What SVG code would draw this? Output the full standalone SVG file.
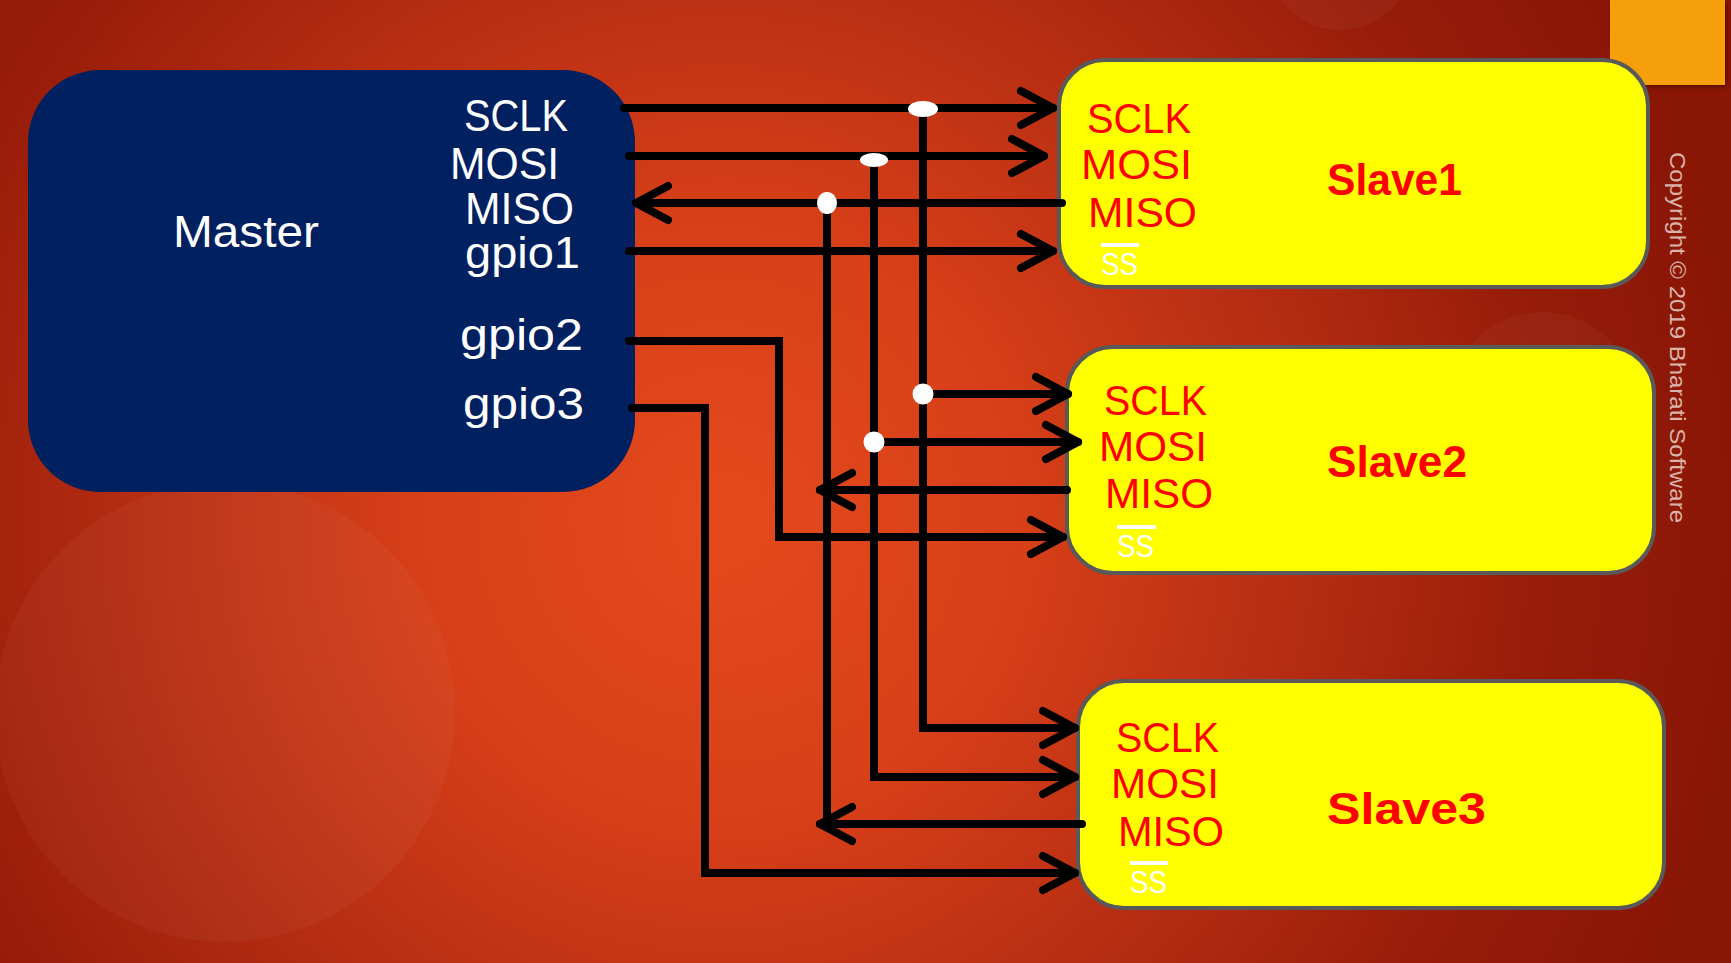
<svg xmlns="http://www.w3.org/2000/svg" width="1731" height="963" viewBox="0 0 1731 963">
<defs>
<radialGradient id="bg" gradientUnits="userSpaceOnUse" cx="720" cy="520" r="1020">
<stop offset="0" stop-color="#E54A1D"/>
<stop offset="0.3" stop-color="#D63F18"/>
<stop offset="0.58" stop-color="#B42C12"/>
<stop offset="0.8" stop-color="#981D0A"/>
<stop offset="1" stop-color="#8A1606"/>
</radialGradient>
<marker id="arr" viewBox="-40 -25 50 50" markerWidth="50" markerHeight="50" markerUnits="userSpaceOnUse" refX="0" refY="0" orient="auto" overflow="visible">
<path d="M -32 -17 L 0 0 L -32 17" fill="none" stroke="#000" stroke-width="8" stroke-linecap="round" stroke-linejoin="round"/>
</marker>
<filter id="sh" x="-20%" y="-20%" width="140%" height="140%">
<feGaussianBlur stdDeviation="2"/>
</filter>
</defs>
<style>
.w{font-family:"Liberation Sans",Arial,sans-serif;font-size:44px;fill:#FFFFFF}
.r{font-family:"Liberation Sans",Arial,sans-serif;font-size:42px;fill:#FF0000}
.ss{font-family:"Liberation Sans",Arial,sans-serif;font-size:31px;fill:#FFFFFF}
.nm{font-family:"Liberation Sans",Arial,sans-serif;font-size:45px;font-weight:bold;fill:#FF0000}
.box{fill:#FFFF00;stroke:#595959;stroke-width:4}
.ol{stroke:#FFFFFF;stroke-width:4}
.c{fill:none;stroke:#000;stroke-width:8;stroke-linecap:round;stroke-linejoin:miter}
.dot{fill:#FFFFFF}
</style>
<g id="background">
<rect x="0" y="0" width="1731" height="963" fill="url(#bg)"/>
<circle cx="225" cy="712" r="230" fill="#FFFFFF" opacity="0.035"/>
<circle cx="1340" cy="-45" r="75" fill="#FFFFFF" opacity="0.035"/>
<circle cx="1543" cy="406" r="94" fill="#FFFFFF" opacity="0.035"/>
<rect x="1612" y="2" width="115" height="85" fill="#000" opacity="0.35" filter="url(#sh)"/>
<rect x="1610" y="0" width="115" height="85" fill="#F5A00A"/>
<text transform="translate(1670,152) rotate(90)" font-family="'Liberation Sans',Arial,sans-serif" font-size="22" fill="#D9B3A8" textLength="371" lengthAdjust="spacingAndGlyphs">Copyright © 2019 Bharati Software</text>
</g>
<g id="master">
<rect x="28" y="70" width="607" height="422" rx="72" ry="72" fill="#002060"/>
<text class="w" x="173" y="247" font-size="45" textLength="146" lengthAdjust="spacingAndGlyphs">Master</text>
<text class="w" x="464" y="131" textLength="104" lengthAdjust="spacingAndGlyphs">SCLK</text>
<text class="w" x="450" y="179" textLength="109" lengthAdjust="spacingAndGlyphs">MOSI</text>
<text class="w" x="465" y="224" textLength="109" lengthAdjust="spacingAndGlyphs">MISO</text>
<text class="w" x="465" y="268" textLength="115" lengthAdjust="spacingAndGlyphs">gpio1</text>
<text class="w" x="460" y="350" textLength="123" lengthAdjust="spacingAndGlyphs">gpio2</text>
<text class="w" x="463" y="419" textLength="121" lengthAdjust="spacingAndGlyphs">gpio3</text>
</g>
<g id="slave1">
<rect class="box" x="1059" y="60" width="589" height="227" rx="46" ry="46"/>
<text class="r" x="1087" y="133" textLength="104" lengthAdjust="spacingAndGlyphs">SCLK</text>
<text class="r" x="1081" y="179" textLength="111" lengthAdjust="spacingAndGlyphs">MOSI</text>
<text class="r" x="1088" y="227" textLength="109" lengthAdjust="spacingAndGlyphs">MISO</text>
<line class="ol" x1="1101" y1="245" x2="1139" y2="245"/>
<text class="ss" x="1101" y="275" textLength="37" lengthAdjust="spacingAndGlyphs">SS</text>
<text class="nm" x="1327" y="195" textLength="135" lengthAdjust="spacingAndGlyphs">Slave1</text>
</g>
<g id="slave2">
<rect class="box" x="1067" y="347" width="587" height="226" rx="46" ry="46"/>
<text class="r" x="1104" y="415" textLength="103" lengthAdjust="spacingAndGlyphs">SCLK</text>
<text class="r" x="1099" y="461" textLength="108" lengthAdjust="spacingAndGlyphs">MOSI</text>
<text class="r" x="1105" y="508" textLength="108" lengthAdjust="spacingAndGlyphs">MISO</text>
<line class="ol" x1="1117" y1="527" x2="1156" y2="527"/>
<text class="ss" x="1117" y="557" textLength="37" lengthAdjust="spacingAndGlyphs">SS</text>
<text class="nm" x="1327" y="477" textLength="140" lengthAdjust="spacingAndGlyphs">Slave2</text>
</g>
<g id="slave3">
<rect class="box" x="1078" y="681" width="586" height="227" rx="46" ry="46"/>
<text class="r" x="1116" y="752" textLength="103" lengthAdjust="spacingAndGlyphs">SCLK</text>
<text class="r" x="1111" y="798" textLength="108" lengthAdjust="spacingAndGlyphs">MOSI</text>
<text class="r" x="1118" y="846" textLength="106" lengthAdjust="spacingAndGlyphs">MISO</text>
<line class="ol" x1="1130" y1="863" x2="1168" y2="863"/>
<text class="ss" x="1130" y="893" textLength="37" lengthAdjust="spacingAndGlyphs">SS</text>
<text class="nm" x="1327" y="824" font-size="52" textLength="159" lengthAdjust="spacingAndGlyphs">Slave3</text>
</g>
<g id="connectors">
<path class="c" d="M 624 108 H 1053" marker-end="url(#arr)"/>
<path class="c" d="M 923 109 V 728 H 1075" marker-end="url(#arr)"/>
<path class="c" d="M 923 394 H 1068" marker-end="url(#arr)"/>
<path class="c" d="M 629 156 H 1044" marker-end="url(#arr)"/>
<path class="c" d="M 874 160 V 777 H 1075" marker-end="url(#arr)"/>
<path class="c" d="M 874 442 H 1078" marker-end="url(#arr)"/>
<path class="c" d="M 1062 203 H 636" marker-end="url(#arr)"/>
<path class="c" d="M 827 203 V 824"/>
<path class="c" d="M 1067 490 H 820" marker-end="url(#arr)"/>
<path class="c" d="M 1082 824 H 820" marker-end="url(#arr)"/>
<path class="c" d="M 629 251 H 1053" marker-end="url(#arr)"/>
<path class="c" d="M 629 341 H 779 V 537 H 1063" marker-end="url(#arr)"/>
<path class="c" d="M 632 408 H 705 V 873 H 1075" marker-end="url(#arr)"/>
<ellipse class="dot" cx="923" cy="109" rx="15" ry="8"/>
<circle class="dot" cx="923" cy="394" r="10.5"/>
<ellipse class="dot" cx="874" cy="160" rx="14" ry="7"/>
<circle class="dot" cx="874" cy="442" r="10.5"/>
<ellipse class="dot" cx="827" cy="203" rx="10" ry="11"/>
</g>
</svg>
